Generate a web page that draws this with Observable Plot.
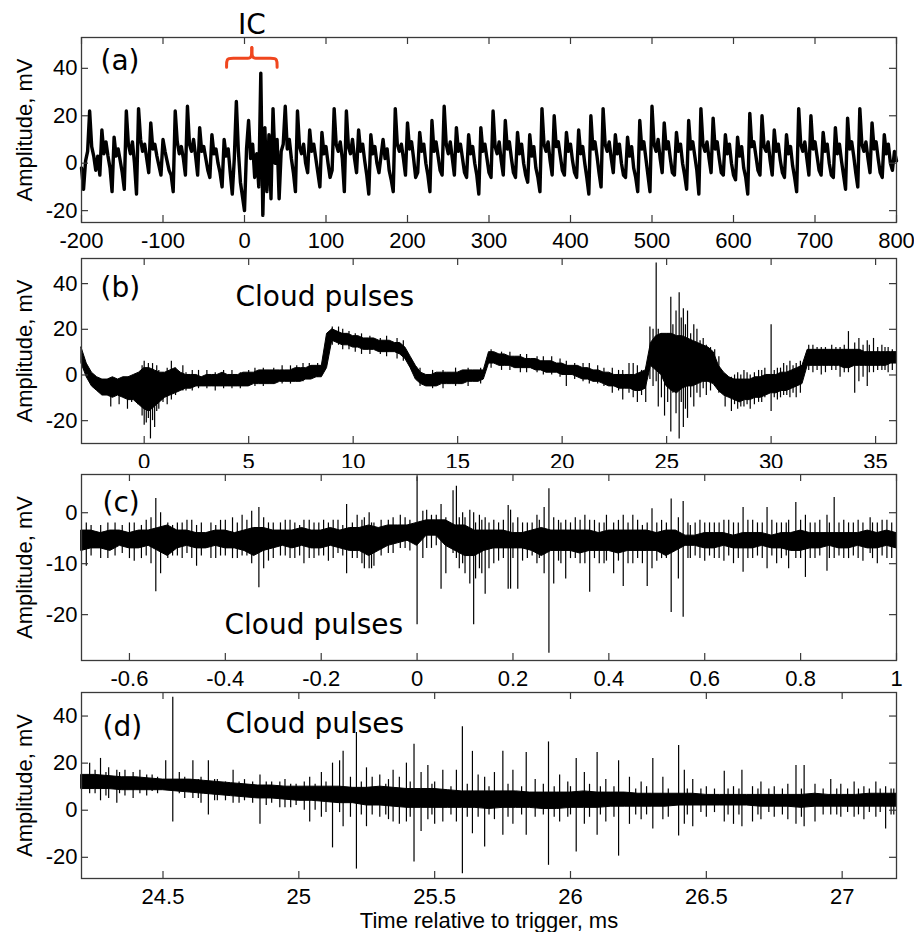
<!DOCTYPE html>
<html><head><meta charset="utf-8">
<script src="https://cdn.jsdelivr.net/npm/d3@7"></script>
<script src="https://cdn.jsdelivr.net/npm/@observablehq/plot@0.6"></script>
<style>
html,body{margin:0;padding:0;background:#fff;}
#chart{position:relative;width:914px;height:932px;overflow:hidden;background:#fff;}
#chart svg{position:absolute;left:0;}
</style></head><body><div id="chart"></div>
<script>
// ---------- Panel (a): sampled trace, start -200 ms, step 2.5 ms ----------
const aStart = -200, aStep = 2.5;
const aValues = [
-2, -11, 1, 5,
22, 7, 3, -3, 3, -5,
14, 4, 9, 3, -2, -12,
11, 3, 6, 1, -4, -11,
22, 8, 4, 9, 0, -13,
23, 10, 5, 8, 2, -4,
17, 6, 8, 3, -1, -5,
10, 5, 1, -3, -5, -12,
22, 9, 4, 7, 2, -5,
24, 8, 5, 10, 3, -5,
15, 5, 7, 2, -3, -6,
12, 4, 6, 0, -4, -10,
10, 3, 6, -4, -13, 2,
26, 5, -8, -14, -20, 6,
18, 2, 8, -6, 4, -10,
38, -22, 15, -12, 12, -15,
23, 0, 10, -15, 5, 8,
24, 6, 10, 2, -4, -12,
22, 7, 4, 8, 0, -4,
14, 5, 8, 2, -4, -10,
13, 4, 7, 0, -6, -3,
23, 8, 5, 9, 2, -12,
22, 7, 4, 10, 2, -4,
14, 5, 8, 1, -5, -13,
12, 4, 7, 0, -4, 3,
10, 2, 6, -3, -7, -12,
23, 8, 5, 8, 2, -5,
17, 6, 9, 2, -6, -4,
13, 5, 8, 0, -5, -12,
18, 5, 9, 3, -3, -5,
24, 8, 4, 9, 2, -5,
15, 5, 8, 2, -4, -6,
12, 4, 7, 0, -5, -13,
15, 5, 8, 2, -4, -6,
22, 7, 4, 9, 1, -5,
18, 6, 9, 2, -4, -6,
13, 4, 8, 0, -5, -8,
12, 3, 7, -2, -6, -12,
23, 8, 5, 9, 1, -5,
20, 7, 9, 3, -3, -5,
13, 5, 8, 1, -4, -6,
14, 4, 7, 0, -6, -13,
20, 6, 9, 3, -4, -10,
23, 8, 5, 9, 2, -4,
12, 4, 8, 0, -5, -6,
11, 3, 7, -2, -6, -12,
18, 6, 9, 2, -5, -12,
24, 8, 5, 10, 2, -4,
17, 6, 9, 2, -4, -5,
13, 5, 8, 0, -5, -11,
18, 6, 9, 3, -3, -13,
23, 8, 5, 9, 2, -4,
19, 6, 9, 2, -4, -5,
12, 4, 8, 0, -5, -7,
11, 3, 7, -2, -6, -13,
21, 7, 9, 3, -3, -5,
20, 7, 5, 9, 1, -5,
14, 5, 8, 1, -4, -6,
12, 4, 7, -1, -6, -12,
23, 8, 5, 9, 2, -5,
20, 6, 9, 3, -3, -5,
13, 5, 8, 0, -5, -6,
15, 4, 8, 1, -5, -11,
19, 6, 9, 3, -4, -10,
23, 8, 5, 9, 2, -4,
17, 6, 9, 2, -4, -6,
12, 4, 8, 0, -3, 5,
1];
const icStart = -22, icEnd = 40, icLevel = 44.2, icFoot = 40.5, icTip = 48.8;

// ---------- Panel (b): noise envelope, start -3 ms, step 0.25 ms ----------
const bStart = -3, bStep = 0.25;
const bHi = [
12, 5, 1, -1, -2, -2, -1, -2,
-1, -1, 0, 1, 3, 3, 2, 1,
1, 2, 3, 1, 0, 0, 0, -1,
0, 0, 0, 1, 0, 0, 0, 1,
1, 1, 2, 2, 2, 2, 2, 2,
2, 3, 3, 3, 4, 4, 4, 18,
20, 19, 18, 18, 17, 17, 16, 16,
16, 15, 15, 15, 14, 14, 12, 8,
4, 1, 0, 0, 1, 1, 1, 1,
1, 2, 2, 2, 2, 2, 10, 10,
9, 9, 8, 8, 8, 7, 7, 7,
6, 6, 6, 5, 5, 4, 4, 4,
3, 3, 2, 2, 1, 1, 0, 0,
0, 0, 0, 1, 2, 14, 17, 18,
18, 18, 17, 17, 16, 15, 14, 13,
12, 10, 4, 1, -1, -2, -2, -2,
-2, -1, -1, 0, 0, 0, 1, 1,
2, 3, 4, 11, 11, 11, 11, 11,
11, 11, 11, 11, 11, 11, 10, 10,
10, 10, 10, 10, 10];
const bLo = [
5, -1, -5, -7, -9, -9, -10, -9,
-10, -11, -11, -13, -15, -16, -14, -12,
-10, -9, -8, -7, -6, -6, -5, -5,
-5, -5, -5, -5, -5, -5, -5, -5,
-5, -4, -4, -4, -4, -4, -3, -3,
-3, -3, -3, -2, -2, -1, -1, 3,
15, 14, 13, 13, 12, 12, 11, 11,
11, 10, 10, 10, 10, 9, 7, 3,
-2, -4, -5, -5, -5, -4, -4, -4,
-4, -4, -3, -3, -3, -2, 5, 5,
4, 4, 4, 3, 3, 3, 3, 2,
2, 1, 1, 1, 0, 0, 0, -1,
-2, -2, -3, -3, -4, -5, -5, -6,
-6, -6, -7, -7, -6, 4, 2, 0,
-5, -7, -8, -6, -5, -5, -4, -3,
-3, -4, -7, -9, -10, -11, -12, -11,
-11, -10, -10, -9, -8, -8, -7, -7,
-6, -5, -4, 4, 4, 4, 4, 4,
4, 4, 3, 3, 4, 4, 4, 4,
4, 4, 4, 5, 5];
// spikes: [time ms, min mV, max mV]
const bSpikes = [
[-1.6,-14,-4],[-1.2,-13,-5],[-0.8,-15,-3],[-0.6,-12,-2],[-0.3,-13,0],[-0.1,-18,4],[0,-22,6],[0.1,-21,3],
[0.2,-19,5],[0.3,-28,2],[0.4,-20,5],[0.5,-23,1],[0.6,-16,4],[0.7,-15,2],[0.9,-12,1],[1.1,-13,3],[1.3,-11,6],
[1.5,-9,3],[1.85,-7,4],[2.0,-7,1],[2.3,-7,2],[2.6,-6,2],[3.0,-6,2],[3.4,-7,1],[3.8,-6,2],[4.2,-6,2],[4.6,-6,1],
[5.0,-5,2],[5.3,-5,3],[5.7,-5,3],[6.2,-4,3],[6.6,-4,4],[7.0,-4,4],[7.3,-3,4],[7.6,-3,5],[7.9,-2,5],[8.3,-1,5],
[9.0,13,21],[9.3,13,21],[9.5,11,20],[9.8,11,19],[10.1,10,18],[10.4,9,18],[10.8,9,17],[11.3,9,16],[11.6,8,17],
[12.1,7,16],[12.4,6,15],
[13.2,-5,3],[13.8,-6,2],[14.3,-6,2],[14.9,-5,3],[15.5,-5,3],[16.1,-4,3],
[16.6,3,11],[17.1,2,10],[17.5,2,10],[18.0,1,9],[18.3,1,9],[18.8,1,8],[19.1,0,8],[19.5,0,8],[19.9,-1,7],
[20.2,-5,6],[20.6,-2,5],[21.0,-3,5],[21.3,-4,5],[21.7,-4,4],[22.0,-5,3],[22.4,-8,3],[22.7,-7,2],[22.9,-11,2],
[23.2,-8,5],[23.4,-10,5],[23.6,-12,4],[23.8,-9,2],[24.0,-12,3],
[24.2,-2,21],[24.35,-5,20],[24.5,-3,49],[24.6,-14,20],[24.75,-10,18],[24.9,-18,15],[25.05,-12,18],[25.2,-25,34],
[25.3,-8,22],[25.45,-17,28],[25.6,-28,36],[25.7,-12,25],[25.8,-23,29],[25.9,-15,22],[26.0,-19,28],[26.15,-10,18],
[26.3,-14,22],[26.45,-8,20],[26.6,-10,15],[26.75,-6,16],[26.9,-9,13],[27.1,-7,12],[27.3,-5,11],[27.5,-8,8],
[27.8,-14,0],[28.1,-16,-1],[28.25,-13,0],[28.4,-15,1],[28.55,-14,0],[28.7,-14,2],[28.85,-13,1],[29.0,-15,0],
[29.2,-13,1],[29.4,-12,2],[29.55,-12,2],[29.7,-10,3],[30.0,-16,22],[30.15,-10,2],[30.3,-11,3],[30.45,-10,3],
[30.6,-9,5],[30.75,-9,4],[30.9,-10,6],[31.05,-8,4],[31.2,-10,5],[31.4,-8,6],
[31.8,2,13],[32.0,1,13],[32.2,2,12],[32.4,0,12],[32.6,1,12],[32.9,2,13],[33.1,2,12],[33.3,-1,12],[33.5,1,13],
[33.7,1,19],[34.0,-8,14],[34.2,-3,16],[34.4,-1,13],[34.6,-5,15],[34.7,1,13],[34.9,1,16],[35.1,2,12],[35.3,2,13],
[35.45,2,12],[35.6,1,12],[35.8,2,11]];

// ---------- Panel (c): noise envelope, start -0.7 ms, step 0.02 ms ----------
const cStart = -0.7, cStep = 0.02;
const cHi = [
-3.5, -3.5, -4, -3.5, -3.5, -4, -3.5, -3.5, -3, -2.5,
-3.5, -3.5, -4, -4, -3.5, -3.5, -4, -3.5, -3, -3,
-3.5, -3.5, -3.5, -3, -3.5, -3.5, -3, -3.5, -3, -3,
-2.5, -3, -2.5, -2.5, -2.5, -2, -1.5, -1.5, -1.5, -2.5,
-2.5, -3.5, -3.5, -3.5, -3.5, -4, -4, -3.5, -3, -3.5,
-3.5, -3.5, -3.5, -3.5, -4, -3.5, -3.5, -3.5, -3.5, -3.5,
-4, -3.5, -3.5, -4.5, -4.5, -4, -4, -4, -4.5, -4,
-4, -4, -4.5, -4, -4, -3.5, -4, -4, -4, -4,
-4, -4, -3.5, -4, -3.5, -4];
const cLo = [
-7.5, -7, -7, -7.5, -6.5, -7, -7, -6.5, -7.5, -8.5,
-7, -6.5, -7, -7, -6.5, -7, -7, -7.5, -8.5, -7.5,
-7, -6.5, -7, -6.5, -7, -7, -6.5, -7, -7.5, -7.5,
-8.5, -7.5, -6.5, -6, -5.5, -6.5, -4.5, -4.5, -6.5, -7.5,
-8.5, -8.5, -7.5, -7, -7, -7, -7, -7.5, -8.5, -7.5,
-7.5, -7.5, -8, -7.5, -7.5, -7.5, -8, -7.5, -7.5, -7.5,
-7.5, -8.5, -7.5, -6.5, -6.5, -7, -7, -6.5, -7, -7,
-7, -6.5, -7, -7, -7.5, -7.5, -7, -7, -6.5, -7,
-7, -6.5, -7, -7, -6.5, -7];
const cSpikes = [
[-0.69,-10.5,-2],[-0.68,-8.5,-2.5],[-0.66,-9,-2.5],[-0.645,-9,-2],[-0.63,-8.5,-2],[-0.615,-8,-2.5],[-0.6,-9,-2],
[-0.59,-9.5,-2],[-0.575,-9,-2.5],[-0.565,-8.5,-1.5],[-0.555,-10,-1],[-0.545,-15.5,2.8],[-0.535,-12,0],
[-0.52,-9,-2],[-0.51,-8.5,-2.5],[-0.5,-8.5,-2],[-0.49,-9,-2],[-0.48,-8,-1.5],[-0.47,-9,-1.5],[-0.46,-10.5,-2.5],
[-0.45,-8.5,-2],[-0.43,-9,-2],[-0.42,-9,-2.5],[-0.41,-8.5,-1.5],[-0.4,-8.5,-1.5],[-0.385,-9,-1],[-0.375,-9,-2],
[-0.365,-8.5,-0.5],[-0.355,-8.5,-1.5],[-0.345,-10,0.3],[-0.33,-14.7,1],[-0.32,-11,-1],[-0.31,-9.5,-2],
[-0.3,-9,-2],[-0.285,-8.5,-2],[-0.275,-8.5,-1.5],[-0.265,-9,-1.5],[-0.255,-9,-2],[-0.245,-8.5,-2.5],
[-0.236,-10,-1.5],[-0.225,-9,-1.5],[-0.215,-9,-2],[-0.205,-8.5,-2],[-0.195,-8.5,-1.5],[-0.185,-9.5,-2],
[-0.175,-9,-1.5],[-0.165,-8,-1.5],[-0.155,-8.5,-2.5],[-0.147,-12,1.6],[-0.135,-9,-2],[-0.125,-9,-0.5],
[-0.115,-10,-1.5],[-0.11,-11,-1],[-0.1,-11,0],[-0.095,-11,-2],[-0.09,-10.5,-2],[-0.075,-8.5,-1.5],
[-0.06,-8,-1.5],[-0.05,-8,-1],[-0.035,-7,-0.5],[-0.025,-7,-1],[-0.015,-7.5,-1.5],[0.0,-22,7],[0.012,-9,0.3],
[0.02,-7,0.5],[0.03,-7,-0.5],[0.04,-6.5,-0.5],[0.05,-15,1.6],[0.06,-12,-1],[0.075,-8,4.3],[0.082,-9,5.2],
[0.088,-11,-1],[0.095,-10,0],[0.1,-12,-1],[0.11,-14,0.5],[0.118,-22,0],[0.122,-13,-2],[0.13,-11,-0.5],
[0.135,-12,-1.5],[0.142,-16,-1],[0.15,-11,-2],[0.16,-10,-1.5],[0.17,-9.5,-2],[0.18,-9,-1.5],[0.19,-15,1.4],
[0.195,-15,0.5],[0.2,-9,-2],[0.21,-15,-1],[0.22,-9.5,-2],[0.23,-9,-2],[0.24,-8.5,-2],[0.25,-10,-0.5],
[0.255,-9,-1.5],[0.265,-12,1],[0.275,-27.6,4.7],[0.285,-14,-1],[0.295,-9.5,-1.5],[0.3,-10,-2],[0.31,-13,-1.5],
[0.32,-9,-2],[0.33,-9,-1],[0.34,-10,-1.5],[0.35,-10,-0.5],[0.36,-15.6,-1.5],[0.37,-9,-1.5],[0.38,-10,-2],
[0.39,-10,-2],[0.395,-9.5,-0.5],[0.41,-12,-2],[0.42,-9.5,-1.5],[0.43,-14.5,-0.5],[0.44,-10,-2],[0.45,-10,-0.5],
[0.46,-9,-1.5],[0.47,-10,-2.5],[0.48,-14.5,-2],[0.49,-11,0.8],[0.5,-9.5,-2],[0.51,-9,-1.5],[0.52,-9,-2],
[0.53,-19.6,2.7],[0.545,-13,-1],[0.555,-20.5,2.2],[0.565,-9,-2],[0.57,-9,-2.5],[0.58,-8.5,-2],[0.59,-9,-1.5],
[0.6,-9.5,-2],[0.61,-8.5,-2],[0.62,-9,-2],[0.63,-9,-2],[0.64,-9.5,-1.5],[0.65,-8.5,-1.5],[0.66,-10,-2],
[0.67,-9,-2],[0.68,-11.7,1],[0.69,-9,-1.5],[0.7,-9,-1.5],[0.71,-8.5,-2],[0.72,-9,-2],[0.73,-11,1],
[0.74,-8.5,-1.5],[0.75,-10,-2],[0.76,-9,-2],[0.77,-8.5,-2],[0.775,-11,-1.5],[0.79,-9,2],[0.8,-9,-1.5],
[0.81,-12.7,-0.5],[0.82,-9,-2],[0.83,-9,-2],[0.84,-8.5,-1.5],[0.855,-11.5,-0.5],[0.86,-9,-2],[0.87,-9,3],
[0.88,-8.5,-2],[0.89,-9,-1.5],[0.9,-9,-2],[0.91,-8.5,-2],[0.92,-9,-1.5],[0.93,-9.5,-2],[0.945,-8,-1],
[0.95,-9,-2],[0.96,-10,-2],[0.97,-8.5,-1.5],[0.98,-9,-1.5],[0.99,-9,-2]];

// ---------- Panel (d): noise envelope, start 24.2 ms, step 0.05 ms ----------
const dStart = 24.2, dStep = 0.05;
const dHi = [
15, 15, 14.5, 14, 14, 13.5, 13, 13, 13, 12.5,
12, 11.5, 11, 10.5, 10.5, 10, 10, 10, 10, 10,
9.5, 9.5, 10, 9.5, 9, 9, 9, 8.5, 8, 8,
8, 8, 8, 7.5, 7.5, 7.5, 7.5, 8, 7.5, 7.5,
7.5, 7, 7, 7, 7, 7, 6.5, 6.5, 6.5, 6.5,
6.5, 6.5, 6.5, 6.5, 7, 6.5, 6.5, 6.5, 7, 7,
7];
const dLo = [
9, 9, 9, 8.5, 8.5, 8.5, 8.5, 8, 7.5, 7,
6.5, 6, 5.5, 5, 5, 4.5, 4, 4, 3.5, 3,
3, 2, 2, 1.5, 1, 1, 1, 1, 1, 1,
0.5, 1, 1, 1, 0.5, 0.5, 1, 1, 1, 1.5,
1.5, 1.5, 1.5, 1.5, 2, 2, 2, 2, 2, 2,
1.5, 1.5, 1.5, 1, 1.5, 1.5, 1.5, 1.5, 1.5, 1.5,
1.5];
const dSpikes = [
[24.23,7,20],[24.25,7,17],[24.27,4,22],[24.29,6,16],[24.3,5,18],[24.33,3,17],[24.34,7,16],[24.36,6,17],
[24.39,5,16],[24.415,7,17],[24.44,6,15],[24.46,8,15],[24.48,7,14],[24.51,9,21],[24.536,-5,48],[24.56,7,16],
[24.58,5,14],[24.61,5,21],[24.63,5,13],[24.64,3,14],[24.667,-2,21],[24.69,4,13],[24.7,4,13],[24.73,4,12],
[24.758,3,17],[24.78,3,12],[24.8,4,13],[24.83,3,12],[24.857,-6,15],[24.88,2,12],[24.9,3,12],[24.93,1,12],
[24.949,1,13],[24.97,1,11],[24.99,2,11],[25.02,0,12],[25.04,-5,14],[25.06,0,11],[25.083,-3,16],[25.1,-1,12],
[25.124,-16,20],[25.15,-1,21],[25.163,-7,25],[25.19,-3,14],[25.212,-25,33],[25.23,-2,12],[25.249,-7,18],
[25.27,-2,14],[25.298,-3,15],[25.32,-2,11],[25.33,-4,13],[25.347,-5,17],[25.37,-6,14],[25.396,-5,20],
[25.41,-3,12],[25.424,-22,28],[25.45,-9,16],[25.475,-4,19],[25.49,-2,11],[25.5,-6,12],[25.53,-5,17],
[25.56,-2,10],[25.58,-5,17],[25.602,-27,35.5],[25.62,-3,11],[25.639,-10,25],[25.66,-3,15],[25.684,-15.6,14],
[25.7,-2,10],[25.72,-4,16],[25.751,-10.6,25],[25.77,-3,11],[25.788,-6,17],[25.82,-2,10],[25.837,-10.6,24.5],
[25.87,-3,13],[25.9,-2,11],[25.919,-23.4,29],[25.94,-3,10],[25.96,-5,15],[25.99,-3,12],[26.0,-2,10],
[26.021,-17.7,22],[26.051,-6,16],[26.07,-3,11],[26.098,-10.6,24.5],[26.11,-2,10],[26.13,-5,13],[26.16,-3,10],
[26.177,-19.5,21],[26.217,-6,14],[26.24,-2,9],[26.26,-4,12],[26.28,-2,10],[26.303,-8,22],[26.34,-4,14],
[26.36,-3,9],[26.398,-11,27.5],[26.419,-6,17],[26.43,-2,9],[26.45,-7,13],[26.48,-1,9],[26.5,-3,10],
[26.53,-1,9],[26.566,-5,16.5],[26.58,-2,9],[26.6,-6,10],[26.62,-2,9],[26.631,-7,17],[26.67,-5,10],
[26.69,-2,9],[26.701,-4,12],[26.73,-1,9],[26.75,-3,10],[26.78,-2,9],[26.8,-4,11],[26.83,-6,19],[26.85,-3,9],
[26.86,-7,19],[26.9,-5,11],[26.93,-2,9],[26.958,-2,13],[26.98,-2,9],[26.995,-3,11],[27.02,-1,9],[27.044,-3,12],
[27.06,-2,9],[27.08,-4,10],[27.1,-1,9],[27.124,-3,12],[27.14,-1,9],[27.16,-8,10],[27.18,-2,9],[27.19,-2,9]];

// ---------- axes ticks & labels ----------
const aXTicks = [-200,-100,0,100,200,300,400,500,600,700,800];
const bXTicks = [0,5,10,15,20,25,30,35];
const cXTicks = [-0.6,-0.4,-0.2,0,0.2,0.4,0.6,0.8,1];
const dXTicks = [24.5,25,25.5,26,26.5,27];
const yTicks40 = [-20,0,20,40];
const cYTicks = [-20,-10,0];
const yLabel = "Amplitude, mV";
const xLabel = "Time relative to trigger, ms";
const annotation = "Cloud pulses";

// ---------- helpers ----------
const W = 914, ML = 81, MR = 18, IW = W - ML - MR;
const FRAME = "#3a3a3a";
const FONT = "'Liberation Sans', Arial, sans-serif";
const LABFONT = "'DejaVu Sans', sans-serif";

const envelope = (start, step, hi, lo) => hi.map((h, i) => ({t: start + i * step, hi: h, lo: lo[i]}));
const spikes = (arr) => arr.map(([t, lo, hi]) => ({t, lo, hi}));
function noiseMarks(env, spk) {
  return [
    Plot.areaY(env, {x: "t", y1: "lo", y2: "hi", fill: "black", stroke: "black", strokeWidth: 1}),
    Plot.ruleX(spk, {x: "t", y1: "lo", y2: "hi", stroke: "black", strokeWidth: 1.2})
  ];
}

function panel(p) {
  const ih = p.height - p.marginTop - p.marginBottom;
  const marks = [
    ...p.marks,
    Plot.frame({stroke: FRAME, strokeWidth: 1.3}),
    Plot.ruleX(p.xTicks, {x: d => d, insetTop: ih - 7, stroke: FRAME, strokeWidth: 1.2}),
    Plot.ruleX(p.xTicks, {x: d => d, insetBottom: ih - 7, stroke: FRAME, strokeWidth: 1.2}),
    Plot.ruleY(p.yTicks, {y: d => d, insetRight: IW - 7, stroke: FRAME, strokeWidth: 1.2}),
    Plot.ruleY(p.yTicks, {y: d => d, insetLeft: IW - 7, stroke: FRAME, strokeWidth: 1.2}),
    Plot.axisX({ticks: p.xTicks, tickSize: 0, tickPadding: 10, tickFormat: d => String(d), fontSize: 22, label: null}),
    Plot.axisY({ticks: p.yTicks, tickSize: 0, tickPadding: 4, tickFormat: d => String(d), fontSize: 22, label: null}),
    Plot.text([yLabel], {frameAnchor: "left", textAnchor: "middle", rotate: -90, dx: -57, fontSize: 22, lineAnchor: "middle"}),
    Plot.text([p.tag], {frameAnchor: "top-left", textAnchor: "start", lineAnchor: "middle", dx: p.tagDx, dy: p.tagDy, fontSize: 28, fontFamily: LABFONT}),
    ...(p.extra || [])
  ];
  const svg = Plot.plot({
    width: W, height: p.height,
    marginLeft: ML, marginRight: MR, marginTop: p.marginTop, marginBottom: p.marginBottom,
    x: {domain: p.xDomain, label: null},
    y: {domain: p.yDomain, label: null},
    style: {fontFamily: FONT, fontSize: "22px", background: "white", color: "black", overflow: "visible"},
    marks
  });
  svg.style.top = p.top + "px";
  document.getElementById("chart").appendChild(svg);
}

// Panel (a)
const aRows = aValues.map((v, i) => ({t: aStart + i * aStep, v}));
const icMid = (icStart + icEnd) / 2;
const braceLeft = [[icStart, icFoot], [icStart, icLevel], [icStart + 6, icLevel], [icMid - 6, icLevel], [icMid, icLevel], [icMid, icTip]];
const braceRight = [[icMid, icTip], [icMid, icLevel], [icMid + 6, icLevel], [icEnd - 6, icLevel], [icEnd, icLevel], [icEnd, icFoot]];
panel({
  top: 0, height: 252, marginTop: 37, marginBottom: 30,
  xDomain: [-200, 800], yDomain: [-25, 53], xTicks: aXTicks, yTicks: yTicks40,
  tag: "(a)", tagDx: 19, tagDy: 24,
  marks: [
    Plot.line(aRows, {x: "t", y: "v", stroke: "black", strokeWidth: 3.4, strokeLinejoin: "round"}),
    Plot.line(braceLeft, {x: d => d[0], y: d => d[1], curve: "basis", stroke: "#f0461e", strokeWidth: 3}),
    Plot.line(braceRight, {x: d => d[0], y: d => d[1], curve: "basis", stroke: "#f0461e", strokeWidth: 3})
  ],
  extra: [
    Plot.text(["IC"], {x: () => icMid, frameAnchor: "top", dy: -12, lineAnchor: "middle", fontSize: 28, fontFamily: LABFONT})
  ]
});

// Panel (b)
panel({
  top: 250, height: 220, marginTop: 8, marginBottom: 27,
  xDomain: [-3, 36], yDomain: [-30, 51], xTicks: bXTicks, yTicks: yTicks40,
  tag: "(b)", tagDx: 19, tagDy: 30,
  marks: noiseMarks(envelope(bStart, bStep, bHi, bLo), spikes(bSpikes)),
  extra: [
    Plot.text([annotation], {frameAnchor: "top-left", textAnchor: "start", lineAnchor: "middle", dx: 154, dy: 39, fontSize: 28, fontFamily: LABFONT})
  ]
});

// Panel (c)
panel({
  top: 468, height: 219, marginTop: 6, marginBottom: 27,
  xDomain: [-0.7, 1], yDomain: [-29, 7.5], xTicks: cXTicks, yTicks: cYTicks,
  tag: "(c)", tagDx: 21, tagDy: 29,
  marks: noiseMarks(envelope(cStart, cStep, cHi, cLo), spikes(cSpikes)),
  extra: [
    Plot.text([annotation], {frameAnchor: "top-left", textAnchor: "start", lineAnchor: "middle", dx: 143, dy: 151, fontSize: 28, fontFamily: LABFONT})
  ]
});

// Panel (d)
panel({
  top: 688, height: 244, marginTop: 4, marginBottom: 54,
  xDomain: [24.2, 27.2], yDomain: [-29, 50], xTicks: dXTicks, yTicks: yTicks40,
  tag: "(d)", tagDx: 21, tagDy: 35,
  marks: noiseMarks(envelope(dStart, dStep, dHi, dLo), spikes(dSpikes)),
  extra: [
    Plot.text([annotation], {frameAnchor: "top-left", textAnchor: "start", lineAnchor: "middle", dx: 144, dy: 32, fontSize: 28, fontFamily: LABFONT}),
    Plot.text([xLabel], {frameAnchor: "bottom", dy: 42, lineAnchor: "middle", fontSize: 22})
  ]
});
</script></body></html>
